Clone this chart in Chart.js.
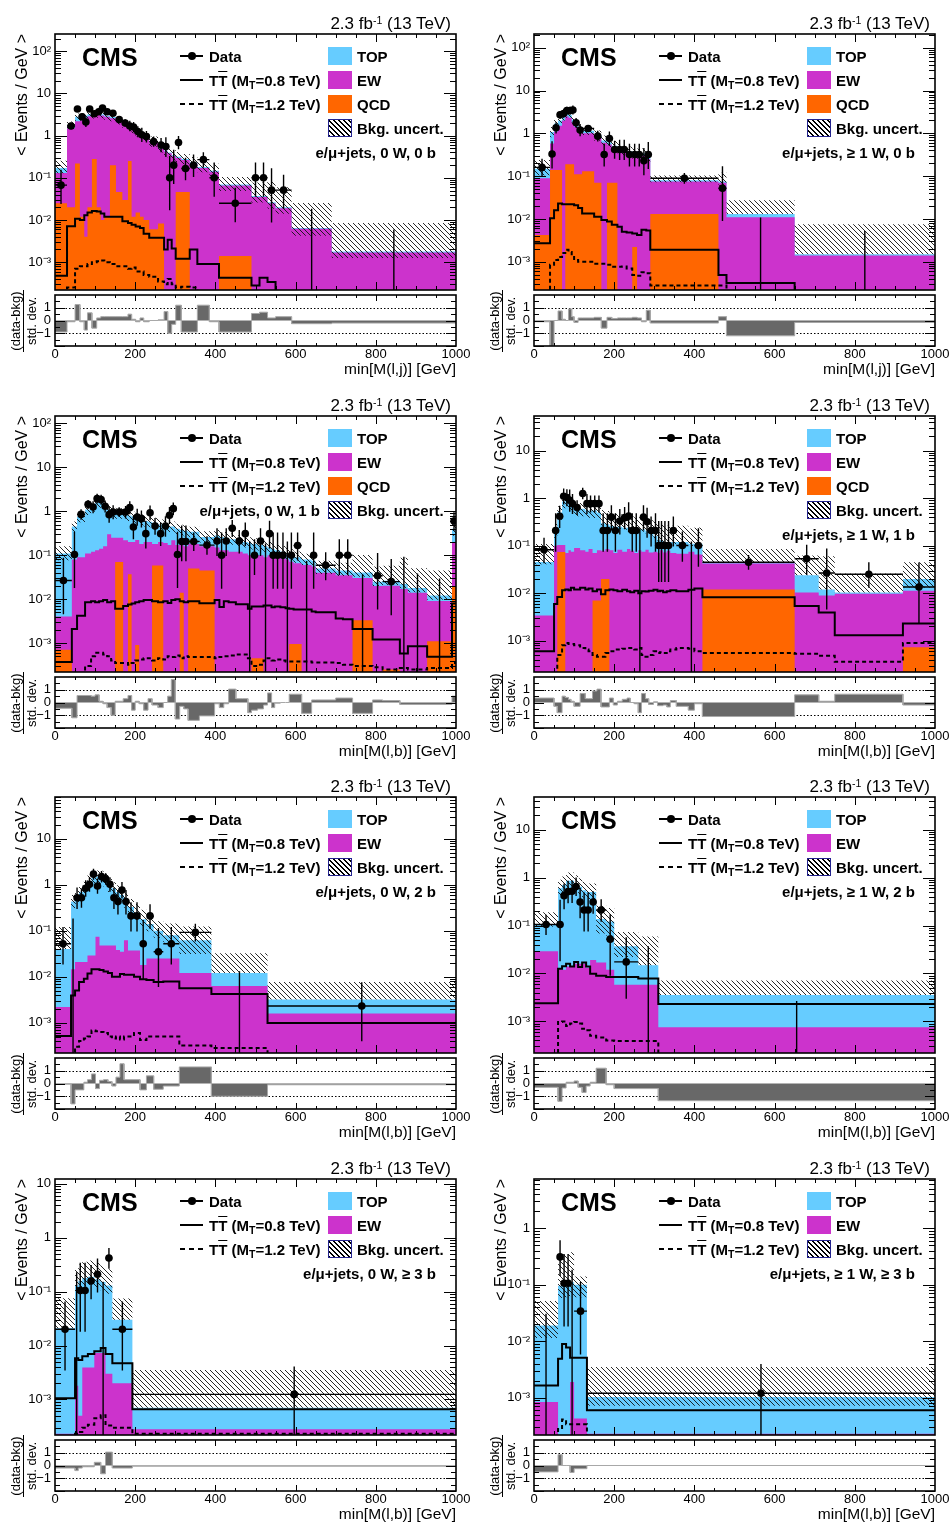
<!DOCTYPE html>
<html>
<head>
<meta charset="utf-8">
<title>min M(l,j) and min M(l,b) distributions</title>
<script src="https://cdn.jsdelivr.net/npm/chart.js@4.4.1/dist/chart.umd.min.js"></script>
<style>
  html, body { margin: 0; padding: 0; background: #fff; }
  body { position: relative; width: 950px; height: 1522px; overflow: hidden;
         font-family: "Liberation Sans", Arial, Helvetica, sans-serif; color: #000; }
  canvas { position: absolute; }
  .t { position: absolute; white-space: nowrap; line-height: 1; }
  .b { font-weight: bold; }
  .sw { position: absolute; box-sizing: border-box; }
</style>
</head>
<body>
<script>
// values are per-bin, in events / GeV; pull is (data-bkg)/std. dev.
// unc up / down are the fractional size of the hatched band above / below the stack

const CH_LABELS = ['e/\u03bc+jets, 0 W, 0 b', 'e/\u03bc+jets, \u2265 1 W, 0 b', 'e/\u03bc+jets, 0 W, 1 b', 'e/\u03bc+jets, \u2265 1 W, 1 b',
                   'e/\u03bc+jets, 0 W, 2 b', 'e/\u03bc+jets, \u2265 1 W, 2 b', 'e/\u03bc+jets, 0 W, \u2265 3 b', 'e/\u03bc+jets, \u2265 1 W, \u2265 3 b'];
const X_TITLES = ['min[M(l,j)] [GeV]', 'min[M(l,b)] [GeV]'];
const X_TICKS = [0, 200, 400, 600, 800, 1000];

// ---- panel 1 : 0 W, 0 b ----
const p1Edges = [0,30,50,62,73,81,92,104,114,123,137,152,168,182,191,201,212,221,235,257,272,281,291,301,315,336,355,385,409,490,510,530,550,590,690,1000];
const p1Data = [0.067,1.7,4.3,2.8,2.1,4.3,3.3,3.7,4.5,3.7,3.4,2.4,2.0,1.7,1.6,1.25,1.05,0.95,0.72,0.6,0.55,0.1,0.2,0.69,0.167,0.2,0.27,0.1,0.025,0.1,0.1,0.051,0.051,0,0];
const p1Qcd = [0.025,0.02,0.22,0.012,0.004,0.02,0.28,0.02,0.01,0.012,0.2,0.046,0.03,0.25,0.012,0.015,0.012,0.01,0.006,0.0083,0,0,0,0.046,0.046,0,0,0,0.0014,0,0,0,0,0,0];
const p1Ew = [0.105,1.48,1.98,2.29,2.6,2.88,2.72,3.08,2.99,2.79,2.4,2.15,1.77,1.25,1.34,1.14,0.99,0.84,0.69,0.49,0.42,0.38,0.33,0.25,0.22,0.22,0.17,0.14,0.064,0.035,0.035,0.025,0.019,0.0062,0.0017];
const p1Top = [0.04,0.3,0.6,0.5,0.4,0.3,0.2,0.2,0.2,0.15,0.15,0.1,0.1,0.08,0.07,0.06,0.05,0.045,0.035,0.03,0.025,0.02,0.02,0.02,0.015,0.012,0.01,0.008,0.004,0.002,0.002,0.0015,0.001,0.0003,0.0001];
const p1UncUp = [0.5,0.2,0.2,0.2,0.2,0.2,0.2,0.2,0.2,0.2,0.2,0.2,0.2,0.25,0.25,0.25,0.25,0.25,0.3,0.3,0.3,0.3,0.3,0.3,0.3,0.35,0.4,0.45,0.5,1.1,1.1,2.0,2.0,2.9,3.7];
const p1UncDn = [0.25,0.2,0.2,0.2,0.2,0.2,0.2,0.2,0.2,0.2,0.2,0.2,0.2,0.2,0.2,0.2,0.2,0.2,0.25,0.25,0.25,0.25,0.25,0.25,0.25,0.25,0.25,0.3,0.3,0.3,0.3,0.3,0.3,0.35,0.3];
const p1Sig08 = [0.00048,0.0071,0.0107,0.01,0.013,0.015,0.0163,0.016,0.0142,0.012,0.012,0.012,0.0094,0.0085,0.0077,0.007,0.0065,0.0047,0.0038,0.0038,0.002,0.0034,0.0021,0.0012,0.0012,0.002,0.0009,0.0009,0.00043,0.00028,0.00043,0.00034,0,0,0];
const p1Sig12 = [0,0.00025,0.0007,0.0008,0.0008,0.0009,0.001,0.00105,0.0011,0.001,0.0009,0.0008,0.0008,0.0007,0.00075,0.0006,0.0006,0.0005,0.00045,0.00035,0.0003,0.0004,0.0003,0.00025,0.00026,0.00025,0,0,0,0,0,0,0,0,0];
const p1Pull = [-0.9,-0.1,1.25,-0.1,-0.75,0.6,-0.6,0.2,0.3,0.3,0.3,0.3,0.3,0.5,0.1,-0.1,0.2,-0.1,0,0.05,0.7,-1.0,-0.3,1.2,-0.9,-0.9,1.2,-0.1,-0.9,0.55,0.65,0.2,0.3,-0.25,-0.2];

// ---- panel 2 : >=1 W, 0 b ----
const p2Edges = [0,40,50,60,70,78,86,94,100,110,120,150,168,182,194,208,219,231,245,257,268,280,290,460,480,650,1000];
const p2Data = [0.16,0.33,1.35,2.7,2.9,3.4,3.4,3.5,1.77,1.19,1.3,0.86,0.32,0.76,0.42,0.42,0.42,0.32,0.32,0.32,0.23,0.32,0.089,0.052,0,0];
const p2Qcd = [0.0042,0.14,0.14,0.14,0,0.19,0.19,0.19,0.11,0.11,0.13,0.07,0,0.07,0.07,0,0,0,0.0022,0,0,0,0.013,0,0,0];
const p2Ew = [0.085,0.44,0.96,1.36,2.0,2.31,2.11,1.61,1.29,0.99,0.87,0.73,0.6,0.48,0.38,0.4,0.35,0.33,0.298,0.3,0.3,0.25,0.062,0.07,0.011,0.0014];
const p2Top = [0.06,0.5,0.6,0.5,0.5,0.4,0.4,0.3,0.25,0.2,0.15,0.1,0.08,0.07,0.06,0.05,0.05,0.05,0.04,0.04,0.04,0.04,0.005,0.005,0.002,0.0001];
const p2UncUp = [0.6,0.3,0.25,0.2,0.2,0.2,0.2,0.2,0.2,0.25,0.25,0.3,0.3,0.3,0.3,0.3,0.3,0.3,0.3,0.3,0.3,0.3,0.3,0.6,1.1,4.0];
const p2UncDn = [0.3,0.25,0.2,0.2,0.2,0.2,0.2,0.2,0.2,0.2,0.2,0.25,0.25,0.25,0.25,0.25,0.25,0.25,0.25,0.25,0.25,0.25,0.1,0.2,0,0];
const p2Sig08 = [0.0027,0.0104,0.016,0.023,0.022,0.022,0.022,0.022,0.021,0.018,0.0134,0.0113,0.0095,0.0087,0.0073,0.0066,0.005,0.0048,0.0046,0.0042,0.0056,0.0054,0.0019,0.00049,0.00032,0];
const p2Sig12 = [0,0.00085,0.0011,0.0013,0.0016,0.0019,0.0017,0.0014,0.0011,0.001,0.001,0.0009,0.0009,0.00085,0.00076,0.00076,0.00078,0.0007,0.00049,0.00047,0.00057,0.00054,0.00028,0.00028,0,0];
const p2Pull = [-0.1,-2.0,0,0.75,0.1,0,0.9,0.3,-0.15,0.2,0.2,0.25,-0.6,0.25,0.15,0.2,0.2,0.2,0.25,0.2,-0.1,0.8,-0.2,0.3,-1.2,-0.15];

// ---- panel 3 : 0 W, 1 b ----
const p3Edges = [0,42,55,75,90,100,110,120,130,140,150,170,182,191,200,210,221,232,242,257,270,281,290,300,311,321,332,360,398,410,421,433,451,468,481,490,505,520,530,540,548,562,575,584,595,615,640,650,700,718,742,792,817,860,880,928,990,1000];
const p3Data = [0.0265,0.104,0.85,1.44,1.25,1.94,1.84,1.3,0.84,0.96,
  0.96,0.96,1.21,0.44,0.74,0.68,0.31,0.93,0.46,0.31,
  0.46,0.81,1.15,0.104,0.206,0.206,0.206,0.17,0.21,0.1,
  0.21,0.41,0.21,0.31,0,0.1,0.21,0,0.31,0.1,
  0.1,0.1,0,0.1,0.166,0,0.1,0.059,0.1,0.1,
  0,0.034,0.025,0,0,0,0.6];
const p3Qcd = [0.0007,0,0,0,0,0,0,0,0,0,
  0.07,0,0.037,0,0.0009,0,0,0,0.058,0.058,
  0,0,0,0,0.014,0,0.05,0.045,0,0,
  0,0,0,0,0,0.00045,0.00045,0,0,0,
  0,0,0,0.00095,0.00095,0,0,0,0,0,
  0.0033,0,0.00025,0,0,0.0011,0.019];
const p3Ew = [0.0033,0.08,0.09,0.11,0.12,0.13,0.14,0.16,0.3,0.25,
  0.18,0.22,0.163,0.2,0.22,0.18,0.2,0.2,0.122,0.142,
  0.19,0.17,0.22,0.17,0.156,0.16,0.13,0.115,0.15,0.13,
  0.13,0.12,0.12,0.11,0.1,0.1,0.1,0.09,0.1,0.09,
  0.09,0.085,0.08,0.07,0.065,0.06,0.055,0.04,0.035,0.035,
  0.027,0.02,0.02,0.017,0.014,0.008,0.18];
const p3Top = [0.106,0.37,0.66,0.99,1.18,1.47,1.46,1.24,0.8,0.7,
  0.65,0.63,0.6,0.55,0.48,0.47,0.4,0.38,0.37,0.3,
  0.29,0.28,0.23,0.23,0.21,0.2,0.16,0.1,0.13,0.13,
  0.12,0.11,0.09,0.09,0.09,0.08,0.07,0.07,0.05,0.05,
  0.04,0.035,0.03,0.03,0.024,0.02,0.02,0.01,0.01,0.01,
  0.01,0.005,0.006,0.005,0.004,0.003,0.2];
const p3UncUp = [0.45,0.3,0.3,0.3,0.3,0.3,0.3,0.3,0.3,0.3,
  0.3,0.3,0.3,0.3,0.3,0.3,0.3,0.3,0.3,0.3,
  0.3,0.3,0.3,0.3,0.3,0.3,0.3,0.35,0.35,0.35,
  0.35,0.35,0.35,0.35,0.35,0.35,0.35,0.35,0.35,0.35,
  0.35,0.35,0.35,0.35,0.35,0.35,0.35,0.5,0.5,0.5,
  1.5,1.2,1.2,3.0,1.8,2.7,0.3];
const p3UncDn = [0.3,0.25,0.25,0.25,0.25,0.25,0.25,0.25,0.25,0.25,
  0.25,0.25,0.25,0.25,0.25,0.25,0.25,0.25,0.25,0.25,
  0.25,0.25,0.25,0.25,0.25,0.25,0.25,0.25,0.25,0.25,
  0.25,0.25,0.25,0.25,0.25,0.25,0.25,0.25,0.25,0.25,
  0.25,0.25,0.25,0.25,0.25,0.25,0.25,0.25,0.25,0.25,
  0.2,0.2,0.2,0.2,0.2,0.2,0.3];
const p3Sig08 = [0.00037,0.0021,0.0042,0.0085,0.009,0.0085,0.009,0.0095,0.0085,0.009,
  0.006,0.007,0.0075,0.008,0.0085,0.009,0.0095,0.0095,0.009,0.0085,
  0.009,0.0082,0.0095,0.01,0.009,0.0085,0.009,0.0081,0.0095,0.0066,
  0.009,0.0085,0.0076,0.0076,0.006,0.0068,0.0068,0.0072,0.0072,0.0065,
  0.0068,0.0065,0.0062,0.006,0.0058,0.0058,0.0052,0.005,0.0036,0.0035,
  0.0021,0.0012,0.0012,0.00058,0.00084,0.00049,0.008];
const p3Sig12 = [0,0,0,0.0003,0.0005,0.0006,0.0006,0.00055,0.0005,0.0004,
  0.00035,0.00035,0.00032,0.00035,0.0004,0.00042,0.00045,0.00045,0.0004,0.00045,
  0.00042,0.0005,0.00048,0.00052,0.00045,0.0005,0.00048,0.00048,0.00045,0.00048,
  0.0005,0.00052,0.00055,0.00055,0.00045,0.0003,0.00032,0.0004,0.00045,0.0004,
  0.00042,0.0004,0.00038,0.00038,0.00038,0.00038,0.00036,0.00036,0.00035,0.00032,
  0.0003,0.00028,0.00025,0.00027,0.00025,0.00027,0.00035];
const p3Pull = [-0.45,-1.2,0.55,0.55,0.5,0.6,0.1,-0.1,-0.4,-1.0,
  0.1,0.3,0.55,-0.6,0.1,-0.1,-0.6,0.3,-0.2,-0.4,
  0,0.5,1.8,-1.3,-0.3,-0.5,-1.4,-1.05,-0.1,-0.4,
  -0.1,1.05,0.3,0.3,-0.8,-0.6,-0.5,-0.2,0.75,-0.4,
  -0.05,0,0,0.65,0.65,-0.85,0.2,0.2,0.35,0.35,
  -0.85,0.2,0.15,-0.15,-0.15,-0.15,0.5];

// ---- panel 4 : >=1 W, 1 b ----
const p4Edges = [0,50,58,70,78,86,92,100,115,128,136,146,157,167,178,188,198,208,220,232,240,250,260,268,278,286,298,308,314,322,331,340,355,385,400,420,650,710,750,920,1000];
const p4Data = [0.082,0.21,0.417,1.1,1.04,0.91,0.77,0.64,1.26,0.77,
  0.77,0.77,0.77,0.21,0.21,0.4,0.21,0.33,0.39,0.42,
  0.21,0.21,0,0.4,0.32,0.21,0.21,0.101,0.101,0.101,
  0.101,0.21,0.101,0,0.101,0.045,0.053,0.0266,0.025,0.0135];
const p4Qcd = [0,0,0.074,0.074,0,0,0,0,0,0,
  0,0.007,0.007,0.02,0.02,0,0,0,0,0,
  0,0,0,0,0,0,0,0,0,0,
  0,0,0,0,0,0.012,0,0,0,0.00073];
const p4Ew = [0.0034,0.1,0.03,0.03,0.07,0.08,0.075,0.09,0.08,0.075,
  0.085,0.063,0.073,0.058,0.065,0.08,0.07,0.082,0.075,0.085,
  0.078,0.07,0.08,0.075,0.082,0.072,0.075,0.07,0.08,0.072,
  0.078,0.07,0.068,0.075,0.065,0.03,0.0104,0.0089,0.0097,0.0106];
const p4Top = [0.042,0.11,0.4,0.75,0.83,0.77,0.68,0.51,0.52,0.48,
  0.47,0.48,0.42,0.22,0.2,0.18,0.18,0.17,0.165,0.155,
  0.15,0.15,0.14,0.145,0.12,0.11,0.085,0.06,0.05,0.048,
  0.042,0.05,0.052,0.035,0.045,0.003,0.0136,0.0031,0.0007,0.0087];
const p4UncUp = [1.4,0.4,0.35,0.3,0.3,0.3,0.3,0.3,0.35,0.4,
  0.4,0.4,0.4,0.9,0.9,0.9,0.9,0.8,0.8,0.8,
  0.8,0.8,0.8,0.8,0.8,0.9,1.0,1.2,1.2,1.2,
  1.2,1.2,1.2,1.1,1.2,0.9,1.6,4.0,1.5,1.25];
const p4UncDn = [0.1,0.3,0.3,0.3,0.3,0.3,0.3,0.3,0.3,0.3,
  0.3,0.3,0.3,0.1,0.1,0.1,0.1,0.1,0.1,0.1,
  0.1,0.1,0.1,0.1,0.1,0.1,0.1,0.1,0.1,0.1,
  0.1,0.1,0.1,0.1,0.1,0,0,0,0,0.35];
const p4Sig08 = [0.0006,0.0059,0.0083,0.0115,0.012,0.0115,0.013,0.012,0.013,0.012,
  0.0125,0.011,0.012,0.0095,0.0115,0.012,0.0115,0.011,0.0118,0.011,
  0.0105,0.0112,0.01,0.011,0.0108,0.0112,0.0118,0.011,0.0112,0.0105,
  0.011,0.0115,0.011,0.0118,0.0125,0.0082,0.0054,0.0039,0.0013,0.0023];
const p4Sig12 = [0,0.0002,0.0005,0.0008,0.00089,0.00085,0.00085,0.0008,0.0007,0.00065,
  0.0006,0.0005,0.00046,0.00046,0.00055,0.0006,0.00065,0.00065,0.00068,0.0007,
  0.0007,0.00065,0.0007,0.0005,0.00046,0.0005,0.0006,0.00055,0.00057,0.00055,
  0.0006,0.00065,0.0007,0.00068,0.0006,0.00055,0.00053,0.00048,0.00036,0.00089];
const p4Pull = [0.35,-0.3,-0.8,0.5,0.4,0.25,0.1,-0.3,0.7,0.3,
  0.3,0.9,1.05,-0.35,-0.35,0.35,-0.2,0.1,0.25,0.35,
  0,-0.1,-0.8,0.7,0.3,-0.15,0.05,-0.25,-0.25,-0.2,
  -0.35,0.15,-0.3,-0.6,-0.1,-1.1,0.6,0.1,0.65,-0.2];

// ---- panel 5 : 0 W, 2 b ----
const p5Edges = [0,40,50,60,72,81,91,101,111,121,132,142,152,162,172,182,197,212,228,246,270,310,390,530,1000];
const p5Data = [0.052,0,0.52,0.52,0.84,1.02,1.7,0.94,1.5,1.34,1.02,0.52,0.43,0.77,0.43,0.21,0.21,0.052,0.21,0.035,0.052,0.092,0,0.0023];
const p5Ew = [0.0022,0.0145,0.021,0.021,0.021,0.029,0.029,0.074,0.048,0.048,0.048,0.048,0.038,0.035,0.062,0.037,0.037,0.018,0.025,0.025,0.025,0.012,0.0063,0.00158];
const p5Top = [0.038,0.415,0.53,0.68,0.88,1.17,1.37,1.43,1.45,1.25,0.95,0.79,0.66,0.565,0.39,0.29,0.21,0.16,0.115,0.075,0.055,0.05,0.0057,0.0016];
const p5UncUp = [2.0,0.4,0.35,0.35,0.35,0.35,0.35,0.35,0.35,0.35,0.35,0.35,0.4,0.4,0.45,0.5,0.55,0.6,0.6,0.6,0.8,1.0,1.7,1.4];
const p5UncDn = [0,0.3,0.3,0.3,0.3,0.3,0.3,0.3,0.3,0.3,0.3,0.3,0.3,0.3,0.3,0.3,0.3,0.3,0.3,0.3,0.3,0.5,0,0];
const p5Sig08 = [0.00051,0.0039,0.005,0.0077,0.009,0.0118,0.0145,0.0145,0.014,0.013,0.012,0.01,0.01,0.0115,0.011,0.011,0.01,0.0088,0.0085,0.0077,0.0079,0.0056,0.0042,0.00098];
const p5Sig12 = [0,0.0002,0.0003,0.0004,0.00045,0.0005,0.00068,0.00065,0.00063,0.0006,0.0005,0.00045,0.0005,0.00043,0.0005,0.0005,0.0006,0.00042,0.0005,0.0005,0.0005,0.00032,0.00028,0];
const p5Pull = [-0.05,-1.6,-0.5,-0.5,0.1,0.3,0.75,-0.4,0.25,0.3,0.15,-0.2,0.5,1.55,0.3,0.3,0.3,-0.5,0.6,-0.45,-0.2,1.3,-1.0,-0.1];

// ---- panel 6 : >=1 W, 2 b ----
const p6Edges = [0,60,70,80,90,100,110,120,130,140,155,180,200,260,310,1000];
const p6Data = [0.105,0.105,0.42,0.51,0.52,0.65,0.31,0.21,0.21,0.31,0.21,0.052,0.0174,0,0];
const p6Ew = [0.029,0.0125,0.012,0.014,0.014,0.016,0.016,0.016,0.013,0.019,0.017,0.012,0.0058,0.0058,0.00075];
const p6Top = [0.076,0.59,0.69,0.84,0.84,0.73,0.63,0.53,0.49,0.48,0.12,0.11,0.031,0.009,0.0028];
const p6UncUp = [0.8,0.5,0.5,0.5,0.5,0.5,0.5,0.5,0.5,0.5,0.9,0.9,1.0,3.0,1.0];
const p6UncDn = [0.1,0.3,0.3,0.3,0.3,0.3,0.3,0.3,0.3,0.3,0.5,0.5,0.4,0,0];
const p6Sig08 = [0.0024,0.0125,0.0142,0.016,0.014,0.0173,0.0136,0.017,0.014,0.0099,0.009,0.0084,0.0084,0.0078,0.0023];
const p6Sig12 = [0,0.00097,0.001,0.0008,0.0009,0.00097,0.0009,0.0007,0.00065,0.0005,0.00046,0.0004,0.00039,0.00039,0];
const p6Pull = [-0.3,-1.4,-0.35,0.1,0.1,0.2,-0.3,-0.7,-0.2,0.1,1.2,-0.1,-0.4,-0.4,-1.35];

// ---- panel 7 : 0 W, >=3 b ----
const p7Edges = [0,50,58,68,82,98,114,126,143,193,1000];
const p7Data = [0.02,0,0.105,0.105,0.158,0.21,0,0.42,0.02,0.00124];
const p7Ew = [0.00023,0.0018,0.0005,0.0039,0.0039,0.0073,0.0073,0.003,0.002,0.00028];
const p7Top = [0.0208,0.128,0.1595,0.176,0.186,0.163,0.143,0.127,0.028,0.00042];
const p7UncUp = [2.6,1.0,1.0,1.0,1.0,1.0,1.0,1.0,1.5,4.0];
const p7UncDn = [0,0.3,0.3,0.3,0.3,0.3,0.3,0.3,0,0];
const p7Sig08 = [0.00105,0.0058,0.0054,0.0063,0.007,0.0078,0.009,0.007,0.0047,0.00066];
const p7Sig12 = [0,0.00023,0.00025,0.0003,0.00034,0.00045,0.00051,0.00033,0.0003,0.00023];
const p7Pull = [-0.2,-0.4,-0.2,-0.1,-0.1,0.25,-0.65,1.05,-0.2,-0.05];

// ---- panel 8 : >=1 W, >=3 b ----
const p8Edges = [0,60,70,80,90,100,132,1000];
const p8Data = [0,0.31,0.106,0.106,0,0.034,0.0012];
const p8Ew = [0.00084,0,0,0,0.0019,0.00043,0.00023];
const p8Top = [0.0182,0.096,0.1,0.1,0.108,0.0996,0.0008];
const p8UncUp = [1.7,2.4,2.4,2.4,2.4,0.4,2.4];
const p8UncDn = [0.4,0.4,0.4,0.4,0.4,0.4,0.3];
const p8Sig08 = [0.00165,0.0049,0.0089,0.0077,0.0051,0.0051,0.0006];
const p8Sig12 = [0,0.00028,0.00041,0.00034,0.00034,0.00034,0];
const p8Pull = [-0.5,0.85,0,0,-0.55,-0.25,0];

const PANELS = [
  {name: 1, row: 0, col: 0, edges: p1Edges, data: p1Data, qcd: p1Qcd, ew: p1Ew, top: p1Top, up: p1UncUp, dn: p1UncDn, s08: p1Sig08, s12: p1Sig12, pull: p1Pull, ymax: 257, label: CH_LABELS[0], labelX: 436, labelBase: 157.5, xtitle: X_TITLES[0]},
  {name: 2, row: 0, col: 1, edges: p2Edges, data: p2Data, qcd: p2Qcd, ew: p2Ew, top: p2Top, up: p2UncUp, dn: p2UncDn, s08: p2Sig08, s12: p2Sig12, pull: p2Pull, ymax: 209, label: CH_LABELS[1], labelX: 436, labelBase: 157.5, xtitle: X_TITLES[0]},
  {name: 3, row: 1, col: 0, edges: p3Edges, data: p3Data, qcd: p3Qcd, ew: p3Ew, top: p3Top, up: p3UncUp, dn: p3UncDn, s08: p3Sig08, s12: p3Sig12, pull: p3Pull, ymax: 148, label: CH_LABELS[2], labelX: 320, labelBase: 133.5, xtitle: X_TITLES[1]},
  {name: 4, row: 1, col: 1, edges: p4Edges, data: p4Data, qcd: p4Qcd, ew: p4Ew, top: p4Top, up: p4UncUp, dn: p4UncDn, s08: p4Sig08, s12: p4Sig12, pull: p4Pull, ymax: 54, label: CH_LABELS[3], labelX: 436, labelBase: 157.5, xtitle: X_TITLES[1]},
  {name: 5, row: 2, col: 0, edges: p5Edges, data: p5Data, qcd: null, ew: p5Ew, top: p5Top, up: p5UncUp, dn: p5UncDn, s08: p5Sig08, s12: p5Sig12, pull: p5Pull, ymax: 81, label: CH_LABELS[4], labelX: 436, labelBase: 133.5, xtitle: X_TITLES[1]},
  {name: 6, row: 2, col: 1, edges: p6Edges, data: p6Data, qcd: null, ew: p6Ew, top: p6Top, up: p6UncUp, dn: p6UncDn, s08: p6Sig08, s12: p6Sig12, pull: p6Pull, ymax: 48, label: CH_LABELS[5], labelX: 436, labelBase: 133.5, xtitle: X_TITLES[1]},
  {name: 7, row: 3, col: 0, edges: p7Edges, data: p7Data, qcd: null, ew: p7Ew, top: p7Top, up: p7UncUp, dn: p7UncDn, s08: p7Sig08, s12: p7Sig12, pull: p7Pull, ymax: 12.3, label: CH_LABELS[6], labelX: 436, labelBase: 133.5, xtitle: X_TITLES[1]},
  {name: 8, row: 3, col: 1, edges: p8Edges, data: p8Data, qcd: null, ew: p8Ew, top: p8Top, up: p8UncUp, dn: p8UncDn, s08: p8Sig08, s12: p8Sig12, pull: p8Pull, ymax: 7.4, label: CH_LABELS[7], labelX: 436, labelBase: 133.5, xtitle: X_TITLES[1]}
];

// ---- drawing ----
const FONT = '"Liberation Sans", Arial, Helvetica, sans-serif';
const C_TOP = '#66ccff', C_EW = '#cc33cc', C_QCD = '#ff6600';
const YMIN = 2.19e-4;
const FLOOR = 1e-9;   // stand-in for empty bins on the log axis (falls below the frame)

// approximate 68% Poisson interval (Wilson-Hilferty)
function poisLo(n) { return n * Math.pow(1 - 1 / (9 * n) - 1 / (3 * Math.sqrt(n)), 3); }
function poisHi(n) { const m = n + 1; return m * Math.pow(1 - 1 / (9 * m) + 1 / (3 * Math.sqrt(m)), 3); }

function steps(edges, vals, floor) {
  const pts = [];
  vals.forEach((v, i) => {
    const y = (floor !== undefined && !(v > 0)) ? floor : v;
    pts.push({x: edges[i], y: y}, {x: edges[i + 1], y: y});
  });
  return pts;
}

function errorBars(edges, vals) {
  const bars = [], marks = [];
  vals.forEach((v, i) => {
    const a = edges[i], b = edges[i + 1], w = b - a, xc = (a + b) / 2;
    if (v > 0) {
      const n = Math.max(1, Math.round(v * w));
      bars.push({x: xc, y: v * poisLo(n) / n}, {x: xc, y: v * poisHi(n) / n}, {x: xc, y: null});
      bars.push({x: a, y: v}, {x: b, y: v}, {x: b, y: null});
      marks.push({x: xc, y: v});
    } else {
      bars.push({x: xc, y: FLOOR}, {x: xc, y: 1.84 / w}, {x: xc, y: null});
    }
  });
  return {bars, marks};
}

const SUP = {'-': '\u207b', '0': '\u2070', '1': '\u00b9', '2': '\u00b2', '3': '\u00b3', '4': '\u2074', '5': '\u2075'};
function logLabel(v) {
  const e = Math.log10(v), r = Math.round(e);
  if (Math.abs(e - r) > 1e-6) return '';
  if (r === 0) return '1';
  if (r === 1) return '10';
  return '10' + String(r).split('').map(c => SUP[c]).join('');
}

// keep the plot frame exactly where it is placed: no room reserved for edge labels
function fixAxis(width, height) {
  return s => {
    if (width !== null) s.width = width;
    if (height !== null) s.height = height;
    s.paddingTop = 0; s.paddingBottom = 0; s.paddingLeft = 0; s.paddingRight = 0;
  };
}

const framePlugin = {
  id: 'frame',
  beforeDatasetsDraw(chart, args, o) {
    if (!o.dotted) return;
    const {ctx, chartArea: a} = chart, y = chart.scales.y;
    ctx.save();
    ctx.strokeStyle = '#000'; ctx.lineWidth = 1; ctx.setLineDash([1.5, 2]);
    [-1, 1].forEach(v => {
      const py = Math.round(y.getPixelForValue(v)) + 0.5;
      ctx.beginPath(); ctx.moveTo(a.left, py); ctx.lineTo(a.right, py); ctx.stroke();
    });
    ctx.restore();
  },
  afterDraw(chart, args, o) {
    const {ctx, chartArea: a} = chart, x = chart.scales.x, y = chart.scales.y;
    ctx.save();
    ctx.strokeStyle = '#000'; ctx.lineWidth = 1;
    ctx.beginPath();
    for (let v = o.xMinor; v < 1000; v += o.xMinor) {
      const px = Math.round(x.getPixelForValue(v)) + 0.5;
      const L = v % o.xMajor === 0 ? o.xLen[0] : o.xLen[1];
      ctx.moveTo(px, a.bottom); ctx.lineTo(px, a.bottom - L);
      ctx.moveTo(px, a.top); ctx.lineTo(px, a.top + L);
    }
    const yt = [];
    if (o.log) {
      for (let e = -5; e <= 3; e++) for (let m = 1; m <= 9; m++) yt.push([m * Math.pow(10, e), m === 1]);
    } else {
      for (let v = -2; v <= 2.001; v += o.yMinor) yt.push([v, Math.abs(v - Math.round(v)) < 1e-9]);
    }
    yt.forEach(([v, maj]) => {
      if (v <= y.min * 1.0001 || v >= y.max * 0.9999) return;
      const py = Math.round(y.getPixelForValue(v)) + 0.5;
      const L = maj ? o.yLen[0] : o.yLen[1];
      ctx.moveTo(a.left, py); ctx.lineTo(a.left + L, py);
      ctx.moveTo(a.right, py); ctx.lineTo(a.right - L, py);
    });
    ctx.stroke();
    ctx.lineWidth = 1.6;
    ctx.strokeRect(a.left, a.top, a.right - a.left, a.bottom - a.top);
    ctx.restore();
  }
};

const HATCH = (() => {
  const s = 5, c = document.createElement('canvas');
  c.width = s; c.height = s;
  const g = c.getContext('2d');
  g.strokeStyle = '#111'; g.lineWidth = 0.9;
  g.beginPath();
  g.moveTo(-1, -1); g.lineTo(s + 1, s + 1);
  g.moveTo(s - 1, -1); g.lineTo(s + 1, 1);
  g.moveTo(-1, s - 1); g.lineTo(1, s + 1);
  g.stroke();
  return c;
})();

function addDiv(cls, css, html) {
  const e = document.createElement('div');
  if (cls) e.className = cls;
  e.style.cssText = css;
  if (html !== undefined) e.innerHTML = html;
  document.body.appendChild(e);
  return e;
}

// text placed by its baseline; right = true aligns its right edge on x
function text(html, x, base, size, cls, right) {
  const top = base - 0.8465 * size;
  if (right) {
    return addDiv('t ' + (cls || ''), `left:${x - 600}px;width:600px;text-align:right;top:${top}px;font-size:${size}px;`, html);
  }
  return addDiv('t ' + (cls || ''), `left:${x}px;top:${top}px;font-size:${size}px;`, html);
}

const TT = m => 'T<span style="text-decoration:overline">T</span> (M<span style="position:relative;top:0.3em;font-size:0.7em">T</span>=' + m + ' TeV)';

function drawPanel(p) {
  const n = p.edges.length - 1;
  const arrays = [p.data, p.ew, p.top, p.up, p.dn, p.s08, p.s12, p.pull].concat(p.qcd ? [p.qcd] : []);
  arrays.forEach((arr, k) => {
    if (arr.length !== n) throw new Error('panel ' + p.name + ': array ' + k + ' has ' + arr.length + ' values, expected ' + n);
  });

  const dx = p.col * 479, dy = Math.round(381.5 * p.row);
  const fl = 55 + dx, fr = 456 + dx, ft = 34 + dy, fb = 290 + dy, rt = 295 + dy, rb = 346 + dy;
  const pad = 4;

  const qcd = p.qcd || p.ew.map(() => 0);
  const lvlEw = p.ew.map((v, i) => v + qcd[i]);
  const lvlTot = lvlEw.map((v, i) => v + p.top[i]);
  const bandHi = lvlTot.map((v, i) => v * (1 + p.up[i]));
  const bandLo = lvlTot.map((v, i) => v * (1 - p.dn[i]));
  const eb = errorBars(p.edges, p.data);

  // main pad
  const cv = document.createElement('canvas');
  cv.width = fr + pad - dx; cv.height = fb - ft + 2 * pad;
  cv.style.left = dx + 'px'; cv.style.top = (ft - pad) + 'px';
  document.body.appendChild(cv);
  const hatch = cv.getContext('2d').createPattern(HATCH, 'repeat');

  const area = (data, color, order) => ({data, backgroundColor: color, borderColor: 'transparent', borderWidth: 0, fill: 'start', pointRadius: 0, order});
  const ds = [];
  ds.push(area(steps(p.edges, lvlTot, FLOOR), C_TOP, 10));
  ds.push(area(steps(p.edges, lvlEw, FLOOR), C_EW, 9));
  if (p.qcd) ds.push(area(steps(p.edges, qcd, FLOOR), C_QCD, 8));
  const loIdx = ds.length;
  ds.push({data: steps(p.edges, bandLo, FLOOR), borderColor: 'transparent', borderWidth: 0, fill: false, pointRadius: 0, order: 7});
  ds.push({data: steps(p.edges, bandHi, FLOOR), borderColor: 'transparent', borderWidth: 0, backgroundColor: hatch, fill: {target: loIdx}, pointRadius: 0, order: 6});
  ds.push({data: steps(p.edges, p.s08, FLOOR), borderColor: '#000', borderWidth: 2, fill: false, pointRadius: 0, order: 5});
  ds.push({data: steps(p.edges, p.s12, FLOOR), borderColor: '#000', borderWidth: 2, borderDash: [4, 3], fill: false, pointRadius: 0, order: 4});
  ds.push({data: eb.bars, borderColor: '#000', borderWidth: 1.4, fill: false, pointRadius: 0, spanGaps: false, order: 2});
  ds.push({data: eb.marks, showLine: false, fill: false, pointRadius: 3.8, pointBackgroundColor: '#000', pointBorderWidth: 0, order: 1});

  new Chart(cv, {
    type: 'line',
    data: {datasets: ds},
    options: {
      responsive: false, animation: false, events: [],
      layout: {autoPadding: false, padding: {left: 0, right: pad, top: pad, bottom: pad}},
      elements: {line: {tension: 0}},
      plugins: {legend: {display: false}, tooltip: {enabled: false},
                frame: {log: true, xMajor: 200, xMinor: 50, xLen: [8, 4], yLen: [12, 6]}},
      scales: {
        x: {type: 'linear', min: 0, max: 1000, display: false},
        y: {type: 'logarithmic', min: YMIN, max: p.ymax,
            grid: {display: false, drawTicks: false}, border: {display: false},
            ticks: {autoSkip: false, padding: 4, color: '#000', font: {family: FONT, size: 13}, callback: logLabel},
            afterFit: fixAxis(fl - dx, null)}
      }
    },
    plugins: [framePlugin]
  });

  // ratio pad
  const rv = document.createElement('canvas');
  rv.width = fr + 22 - dx; rv.height = rb - rt + pad + 18;
  rv.style.left = dx + 'px'; rv.style.top = (rt - pad) + 'px';
  document.body.appendChild(rv);
  new Chart(rv, {
    type: 'line',
    data: {datasets: [{data: steps(p.edges, p.pull), fill: 'origin', backgroundColor: '#686868', borderColor: '#a8a8a8', borderWidth: 1, pointRadius: 0}]},
    options: {
      responsive: false, animation: false, events: [],
      layout: {autoPadding: false, padding: {left: 0, right: 22, top: pad, bottom: 0}},
      plugins: {legend: {display: false}, tooltip: {enabled: false},
                frame: {log: false, dotted: true, xMajor: 200, xMinor: 50, xLen: [6, 3], yMinor: 0.5, yLen: [10, 5]}},
      scales: {
        x: {type: 'linear', min: 0, max: 1000,
            grid: {display: false, drawTicks: false}, border: {display: false},
            afterBuildTicks: s => { s.ticks = X_TICKS.map(v => ({value: v})); },
            ticks: {autoSkip: false, maxRotation: 0, padding: 1, color: '#000', font: {family: FONT, size: 13},
                    callback: v => String(v)},
            afterFit: fixAxis(null, 18)},
        y: {type: 'linear', min: -2, max: 2,
            grid: {display: false, drawTicks: false}, border: {display: false},
            ticks: {stepSize: 1, autoSkip: false, padding: 4, color: '#000', font: {family: FONT, size: 13},
                    callback: v => (v === 1 ? '1' : v === 0 ? '0' : v === -1 ? '\u22121' : '')},
            afterFit: fixAxis(fl - dx, null)}
      }
    },
    plugins: [framePlugin]
  });

  // texts
  text('CMS', 82 + dx, 66 + dy, 25, 'b');
  text('2.3 fb<span style="position:relative;top:-0.48em;font-size:0.62em">-1</span> (13 TeV)', 451 + dx, 29.5 + dy, 17, '', true);

  const rows = [61.5, 85.5, 109.5, 133.5].map(b => b + dy);
  // data symbol
  addDiv('sw', `left:${180 + dx}px;top:${rows[0] - 5.5 - 0.75}px;width:23px;height:1.5px;background:#000;`);
  addDiv('sw', `left:${191.7 - 4 + dx}px;top:${rows[0] - 5.5 - 4}px;width:8px;height:8px;border-radius:50%;background:#000;`);
  text('Data', 209 + dx, rows[0], 15, 'b');
  addDiv('sw', `left:${180 + dx}px;top:${rows[1] - 5.5 - 1}px;width:23px;height:2px;background:#000;`);
  text(TT('0.8'), 209 + dx, rows[1], 15, 'b');
  addDiv('sw', `left:${180 + dx}px;top:${rows[2] - 5.5 - 1}px;width:23px;height:2px;background:repeating-linear-gradient(90deg,#000 0 5px,transparent 5px 9px);`);
  text(TT('1.2'), 209 + dx, rows[2], 15, 'b');

  const entries = [['TOP', 'background:' + C_TOP + ';'], ['EW', 'background:' + C_EW + ';']];
  if (p.qcd) entries.push(['QCD', 'background:' + C_QCD + ';']);
  entries.push(['Bkg. uncert.', 'background:repeating-linear-gradient(45deg,#000 0 1px,transparent 1px 3.5px);border:1px solid #23238f;']);
  entries.forEach(([name, css], k) => {
    addDiv('sw', `left:${328 + dx}px;top:${rows[k] - 5.5 - 9}px;width:24px;height:18px;` + css);
    text(name, 357 + dx, rows[k], 15, 'b');
  });
  text(p.label, p.labelX + dx, p.labelBase + dy, 15, 'b', true);

  // axis titles
  addDiv('t', `left:${22 + dx - 130}px;top:${ft + 130 - 9}px;width:260px;height:18px;line-height:18px;font-size:16px;text-align:right;transform:rotate(-90deg);`,
         '&lt; Events / GeV &gt;');
  addDiv('t', `left:${24 + dx - 35}px;top:${(rt + rb) / 2 - 15}px;width:70px;height:30px;font-size:13px;line-height:13px;text-align:center;transform:rotate(-90deg);`,
         '<div style="border-bottom:1px solid #000;padding-bottom:1px;margin:0 4px;">(data-bkg)</div><div style="padding-top:1px;">std. dev.</div>');
  text(p.xtitle, fr, 374 + dy, 15.5, '', true);
}

PANELS.forEach(drawPanel);
</script>
</body>
</html>
